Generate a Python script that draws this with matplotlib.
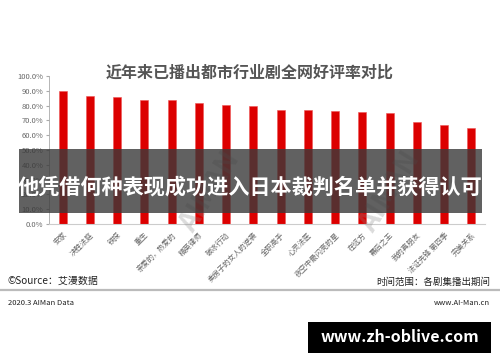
import numpy as np
import matplotlib.pyplot as plt
from matplotlib.patches import Rectangle

plt.rcParams['font.family'] = ['Noto Sans CJK SC', 'DejaVu Sans']

dramas = ["安家", "决胜法庭", "铁探", "重生", "亲爱的，热爱的", "精英律师", "破冰行动",
          "卖房子的女人的逆袭", "全职高手", "心灵法医", "夜空中最闪亮的星", "在远方",
          "幕后之王", "我的真朋友", "法证先锋 第四季", "完美关系"]
rates = [89.6, 86.2, 85.7, 83.9, 83.8, 81.8, 80.5, 79.9, 77.3, 76.8, 76.6, 75.5,
         75.0, 68.9, 66.7, 65.1]

title = "近年来已播出都市行业剧全网好评率对比"
banner = "他凭借何种表现成功进入日本裁判名单并获得认可"

fig = plt.figure(figsize=(5.0, 3.62), dpi=100)
fig.patch.set_facecolor('white')
ax = fig.add_axes([0.098, 0.381, 0.872, 0.409])

x = np.arange(len(dramas))
ax.bar(x, np.array(rates) / 100, width=0.3, color='#dc0000', edgecolor='#ee5555', linewidth=0.4)
ax.set_xlim(-0.5, len(dramas) - 0.5)
ax.set_ylim(0, 1.0)
ax.set_yticks(np.arange(0, 1.01, 0.1))
ax.set_yticklabels([f"{v * 100:.1f}%" for v in np.arange(0, 1.01, 0.1)], fontsize=5.5, color='#666666')
ax.set_xticks(x)
ax.set_xticklabels(dramas, rotation=45, ha='right', rotation_mode='anchor', fontsize=5.3, color='#666666')
ax.tick_params(axis='y', length=2, color='#aaaaaa', pad=2)
ax.tick_params(axis='x', length=0, pad=5)
for s in ['top', 'right']:
    ax.spines[s].set_visible(False)
ax.spines['left'].set_color('#aaaaaa')
ax.spines['bottom'].set_color('#cccccc')
ax.spines['left'].set_linewidth(0.6)
ax.spines['bottom'].set_linewidth(0.8)

# watermark
for wx in [0.42, 0.78]:
    fig.text(wx, 0.47, "AIMAN", rotation=58, fontsize=20, fontweight='bold', color='#888888',
             alpha=0.3, ha='center', va='center')

fig.text(0.5, 0.80, title, fontsize=11.5, fontweight='bold', color='#555555', ha='center', va='center')

# dark banner
fig.patches.append(Rectangle((0.038, 1 - 213 / 362), 0.926, 64 / 362, transform=fig.transFigure,
                             facecolor='#3a3a3a', alpha=0.8, edgecolor='none', zorder=5))
fig.text(0.5, 1 - 187 / 362, banner, fontsize=15.2, fontweight='bold', color='white',
         ha='center', va='center', zorder=6)

fig.text(0.016, 1 - 281 / 362, "©Source：艾漫数据", fontsize=7.2, color='#222222', ha='left', va='center')
fig.text(0.98, 1 - 282 / 362, "时间范围：各剧集播出期间", fontsize=6.8, color='#222222', ha='right', va='center')
fig.add_artist(plt.Line2D([0, 1], [1 - 290 / 362] * 2, transform=fig.transFigure, color='#bbbbbb', lw=1.6))
fig.text(0.016, 1 - 303 / 362, "2020.3 AIMan Data", fontsize=5.5, color='#222222', ha='left', va='center')
fig.text(0.98, 1 - 303 / 362, "www.AI-Man.cn", fontsize=5.5, color='#222222', ha='right', va='center')

fig.patches.append(Rectangle((308 / 500, 1 - 353 / 362), 183 / 500, 31 / 362, transform=fig.transFigure,
                             facecolor='black', edgecolor='none', zorder=5))
fig.text(399.5 / 500, 1 - 337.5 / 362, "www.zh-oblive.com", fontsize=11.5, fontweight='bold', color='white',
         ha='center', va='center', zorder=6)

fig.savefig("out.png", dpi=100)
